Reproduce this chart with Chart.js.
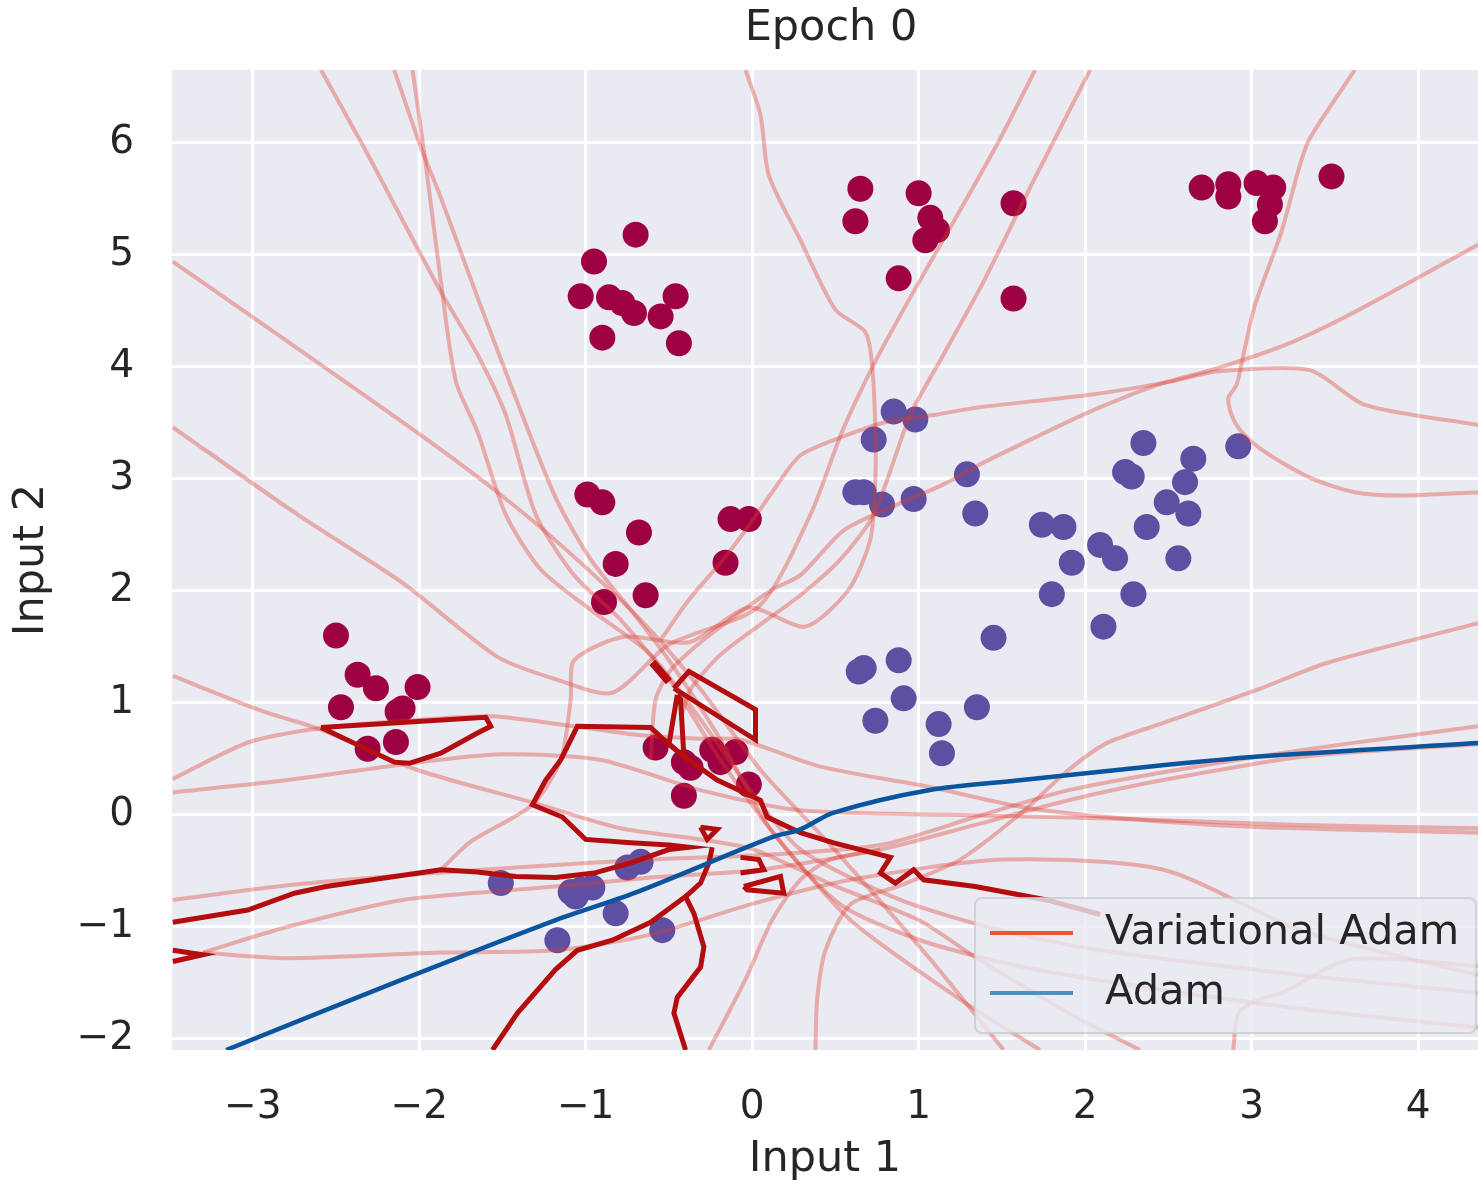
<!DOCTYPE html>
<html>
<head>
<meta charset="utf-8">
<script src="https://cdn.jsdelivr.net/npm/chart.js@4.4.0/dist/chart.umd.min.js"></script>
<style>
  html, body { margin: 0; padding: 0; background: #fff; width: 1478px; height: 1183px; overflow: hidden; }
  #c { display: block; width: 1478px; height: 1183px; }
</style>
</head>
<body>
<canvas id="c" width="1478" height="1183"></canvas>
<script>
// ---- tick labels ----
const xTicks = [-3, -2, -1, 0, 1, 2, 3, 4];
const yTicks = [-2, -1, 0, 1, 2, 3, 4, 5, 6];

// ---- training points (Input 1, Input 2) ----
const classRed = [
  [-0.95,4.94],[-0.70,5.18],[-1.03,4.63],[-0.86,4.62],[-0.78,4.57],[-0.71,4.48],[-0.55,4.45],[-0.46,4.63],[-0.90,4.26],[-0.44,4.21],
  [-0.99,2.86],[-0.90,2.79],[-0.68,2.52],[-0.82,2.24],[-0.89,1.90],[-0.64,1.96],[-0.13,2.64],[-0.02,2.64],[-0.16,2.25],
  [0.65,5.59],[1.00,5.55],[0.62,5.30],[1.07,5.33],[1.11,5.22],[1.04,5.13],[0.88,4.79],[1.57,5.46],[1.57,4.61],
  [2.70,5.60],[2.86,5.63],[2.86,5.52],[3.03,5.64],[3.13,5.60],[3.11,5.45],[3.08,5.30],[3.48,5.70],
  [-2.50,1.60],[-2.37,1.25],[-2.26,1.13],[-2.01,1.14],[-2.47,0.96],[-2.13,0.92],[-2.10,0.95],[-2.14,0.65],[-2.31,0.59],
  [-0.58,0.60],[-0.41,0.47],[-0.37,0.42],[-0.24,0.58],[-0.19,0.47],[-0.10,0.56],[-0.02,0.27],[-0.41,0.17]
];
const classPurple = [
  [0.85,3.60],[0.98,3.53],[0.73,3.35],[0.62,2.88],[0.67,2.88],[0.78,2.77],[0.97,2.82],[1.29,3.04],[1.34,2.69],
  [1.74,2.59],[1.87,2.57],[1.92,2.25],[1.80,1.97],[2.09,2.41],[2.18,2.29],[2.29,1.97],[2.11,1.68],[1.45,1.58],
  [2.35,3.32],[2.24,3.06],[2.28,3.02],[2.65,3.18],[2.60,2.97],[2.49,2.79],[2.62,2.69],[2.37,2.57],[2.56,2.29],[2.92,3.29],
  [0.67,1.31],[0.64,1.28],[0.88,1.38],[0.91,1.04],[0.74,0.84],[1.12,0.81],[1.14,0.55],[1.35,0.96],
  [-1.51,-0.61],[-1.09,-0.69],[-1.03,-0.67],[-0.96,-0.65],[-1.06,-0.73],[-0.82,-0.88],[-1.17,-1.12],[-0.75,-0.47],[-0.67,-0.42],[-0.54,-1.03]
];

// ---- Variational Adam: sampled decision boundaries ----
const sampleA = [[-3.48,3.46],[-2.73,2.68],[-2.10,2.07],[-1.53,1.41],[-1.18,1.21],[-0.84,1.09],[-0.50,1.52],[0.04,1.86],[0.35,2.68],[0.54,3.42],[0.73,4.02],[0.95,4.62],[1.20,5.27],[1.48,6.01],[1.70,6.65]];
const sampleB = [[-3.48,4.94],[-2.65,4.08],[-1.99,3.39],[-1.53,2.88],[-1.15,2.41],[-0.67,1.74],[-0.31,1.12],[0.05,0.40],[0.47,-0.27],[1.07,-1.29],[1.51,-2.10]];
const sampleC = [[-2.59,6.65],[-2.34,5.98],[-1.87,4.67],[-1.65,4.11],[-1.48,3.57],[-1.30,2.68],[-1.07,2.14],[-0.79,1.74],[-0.50,1.21],[-0.19,0.49],[0.11,-0.13],[0.59,-0.94],[1.25,-1.65],[1.73,-2.10]];
const sampleD = [[-2.15,6.65],[-1.99,5.96],[-1.87,5.51],[-1.65,4.62],[-1.42,3.72],[-1.18,2.83],[-0.97,2.28],[-0.73,1.83],[-0.50,1.38],[-0.19,0.67],[0.11,-0.13],[0.53,-0.80],[1.01,-1.12],[1.60,-1.35],[2.40,-1.55],[3.40,-1.75],[4.36,-1.90]];
const sampleE = [[-2.04,6.65],[-1.96,5.80],[-1.87,4.76],[-1.78,3.87],[-1.65,3.42],[-1.48,2.68],[-1.27,2.19],[-0.97,1.83],[-0.61,1.43],[-0.31,0.85],[-0.01,0.22],[0.29,-0.31],[0.89,-0.76],[1.49,-1.03],[2.09,-1.21],[3.29,-1.43],[4.36,-1.59]];
const sampleF = [[-0.04,6.65],[0.05,6.25],[0.10,5.71],[0.29,5.13],[0.50,4.51],[0.68,4.31],[0.72,4.02],[0.74,3.44],[0.74,2.99],[0.71,2.46],[0.58,2.01],[0.32,1.68],[-0.02,1.85],[-0.38,1.54],[-0.77,1.59],[-1.07,1.38],[-1.09,1.03],[-1.15,0.49],[-1.32,0.09],[-1.69,-0.24],[-1.87,-0.49]];
const sampleG = [[3.62,6.65],[3.35,6.04],[3.29,5.80],[3.18,5.21],[3.02,4.55],[2.96,4.17],[2.91,3.84],[2.86,3.72],[2.88,3.57],[2.94,3.42],[3.08,3.24],[3.35,3.01],[3.62,2.88],[3.90,2.85],[4.36,2.88]];
const sampleH = [[4.36,5.09],[3.62,4.49],[3.21,4.20],[2.80,3.99],[2.44,3.84],[2.03,3.60],[1.70,3.37],[1.37,3.13],[1.15,2.95],[0.87,2.77],[0.55,2.54],[0.29,2.14],[0.12,2.01],[-0.08,1.80],[-0.31,1.54],[-0.49,1.29],[-0.58,1.03],[-0.61,0.49]];
const sampleT = [[2.03,6.65],[1.70,5.69],[1.39,4.76],[1.15,4.11],[0.95,3.57],[0.73,2.68],[0.53,2.28],[0.29,1.96],[0.05,1.70],[-0.19,1.43],[-0.37,1.12],[-0.43,0.85]];
const sampleS = [[4.36,3.48],[3.68,3.66],[3.35,3.97],[2.80,3.96],[2.52,3.87],[2.03,3.75],[1.37,3.64],[1.09,3.57],[0.81,3.51],[0.55,3.38],[0.29,3.21],[0.12,2.88],[-0.04,2.54],[-0.19,2.25],[-0.38,1.92],[-0.55,1.56]];
const sampleP = [[-3.48,0.32],[-3.02,0.65],[-2.56,0.78],[-1.99,0.85],[-1.56,0.88],[-1.07,0.79],[-0.67,0.71],[-0.31,0.68],[-0.07,0.67],[0.41,0.43],[1.06,0.25],[1.62,0.07],[2.13,-0.02],[3.03,-0.11],[4.36,-0.16]];
const sampleQ = [[-3.48,0.20],[-2.79,0.31],[-2.10,0.45],[-1.51,0.54],[-0.91,0.49],[-0.31,0.22],[0.29,0.04],[1.19,0.00],[2.09,-0.03],[3.29,-0.09],[4.36,-0.12]];
const sampleO = [[-3.48,1.24],[-2.95,0.93],[-2.59,0.76],[-2.01,0.40],[-1.32,0.11],[-0.79,-0.12],[-0.31,-0.22],[0.01,-0.31],[0.49,-0.63],[1.00,-0.94],[1.34,-1.27],[1.90,-1.77],[2.33,-2.10]];
const sampleN1 = [[4.36,0.79],[3.60,0.64],[3.04,0.52],[2.47,0.38],[1.90,0.22],[1.34,-0.02],[0.77,-0.27],[0.05,-0.36],[-0.61,-0.40],[-1.42,-0.47],[-2.10,-0.54],[-2.79,-0.63],[-3.48,-0.76]];
const sampleN2 = [[4.36,0.63],[3.32,0.52],[2.47,0.31],[1.90,0.13],[1.34,-0.09],[0.77,-0.31],[0.05,-0.49],[-0.61,-0.56],[-0.95,-0.61],[-1.42,-0.67],[-2.10,-0.76],[-2.79,-1.00],[-3.30,-1.23]];
const sampleM = [[-3.30,-1.23],[-2.79,-1.28],[-1.87,-1.23],[-1.18,-1.21],[-0.61,-1.07],[-0.01,-0.80],[0.59,-0.58],[1.51,-0.40],[2.47,-0.49],[3.29,-1.03],[4.36,-1.43]];
const sampleK = [[4.36,1.71],[3.46,1.36],[3.04,1.12],[2.47,0.82],[2.13,0.64],[1.90,0.40],[1.62,0.02],[1.25,-0.40],[0.89,-0.63],[0.59,-0.80],[0.44,-1.21],[0.39,-1.65],[0.38,-2.10]];
const sampleU = [[-0.26,-2.10],[-0.04,-1.47],[0.12,-0.94],[0.29,-0.58],[0.47,-0.40],[0.77,-0.31]];
const sampleV = [[2.89,-2.10],[2.92,-1.77],[3.04,-1.65],[3.18,-1.59],[3.60,-1.29],[4.36,-1.35]];
const vadamSamples = [sampleA, sampleB, sampleC, sampleD, sampleE, sampleF, sampleG, sampleH, sampleT, sampleS,
                      sampleP, sampleQ, sampleO, sampleN1, sampleN2, sampleM, sampleK, sampleU, sampleV];

// ---- Variational Adam: mean boundary (dark) ----
const meanLeftLoop = [[-2.59,0.78],[-1.60,0.87],[-1.57,0.79],[-1.65,0.73],[-1.87,0.55],[-2.06,0.46],[-2.15,0.47],[-2.59,0.78]];
const meanMain = [[-3.48,-0.96],[-3.03,-0.85],[-2.75,-0.70],[-2.56,-0.64],[-1.87,-0.49],[-1.65,-0.51],[-1.42,-0.55],[-1.18,-0.56],[-0.95,-0.52],[-0.73,-0.43],[-0.50,-0.31],[-0.38,-0.29],[-0.50,-0.27],[-0.73,-0.25],[-1.00,-0.22],[-1.14,-0.02],[-1.32,0.09],[-1.24,0.31],[-1.15,0.49],[-1.05,0.79],[-0.61,0.78],[-0.53,0.67],[-0.41,0.52],[-0.21,0.31],[0.05,0.13],[0.09,-0.02],[0.29,-0.16],[0.49,-0.25],[0.83,-0.38],[0.77,-0.52],[0.86,-0.61],[0.97,-0.49],[1.03,-0.58],[1.34,-0.64],[1.77,-0.76],[2.09,-0.89]];
const meanQuad = [[-0.47,1.13],[-0.38,1.28],[0.02,0.94],[0.02,0.67],[-0.47,1.13]];
const meanNarrow = [[-0.45,1.07],[-0.50,0.63],[-0.41,0.52],[-0.43,1.03],[-0.45,1.07]];
const meanSmall1 = [[-0.05,-0.64],[0.17,-0.55],[0.19,-0.70],[-0.03,-0.67],[-0.05,-0.64]];
const meanSmall2 = [[-0.07,-0.38],[0.04,-0.40],[0.07,-0.49],[-0.07,-0.52]];
const meanSmall3 = [[-0.31,-0.11],[-0.21,-0.13],[-0.27,-0.22],[-0.31,-0.11]];
const meanWedge = [[-1.56,-2.10],[-1.41,-1.77],[-1.18,-1.38],[-1.05,-1.21],[-0.84,-1.12],[-0.61,-0.96],[-0.40,-0.73],[-0.35,-0.88],[-0.29,-1.18],[-0.31,-1.36],[-0.45,-1.63],[-0.47,-1.77],[-0.40,-2.10]];
const meanStub = [[-0.40,-0.73],[-0.31,-0.61],[-0.26,-0.43],[-0.24,-0.29]];
const meanArrow = [[-3.48,-1.21],[-3.30,-1.25],[-3.48,-1.31]];
const meanDash = [[-0.60,1.36],[-0.50,1.19]];
const meanPieces = [meanLeftLoop, meanMain, meanQuad, meanNarrow, meanSmall1, meanSmall2, meanSmall3, meanWedge, meanStub, meanArrow, meanDash];

// ---- Adam boundary ----
const adamBoundary = [[-3.16,-2.10],[-2.10,-1.47],[-1.18,-0.94],[-0.71,-0.70],[0.12,-0.20],[0.29,-0.13],[0.49,0.02],[1.06,0.22],[1.62,0.31],[2.19,0.40],[3.04,0.52],[4.36,0.64]];

const legendLabels = ['Variational Adam', 'Adam'];
const legendColors = ['#ee523a', '#4a90c8'];

const toXY = pts => pts.map(p => ({ x: p[0], y: p[1] }));
const fmt = v => (v < 0 ? '\u2212' + Math.abs(v) : String(v));

const datasets = [];
datasets.push({
  label: 'Adam', data: toXY(adamBoundary), showLine: true, pointRadius: 0, tension: 0.3,
  borderColor: '#0b559f', borderWidth: 4.5, order: 1, clip: 0
});
meanPieces.forEach(p => datasets.push({
  label: 'mean', data: toXY(p), showLine: true, pointRadius: 0,
  borderColor: '#b30d10', borderWidth: p === meanDash ? 8 : 5, order: 2, clip: 0
}));
vadamSamples.forEach(s => datasets.push({
  label: 'sample', data: toXY(s), showLine: true, pointRadius: 0, tension: 0.25,
  borderColor: 'rgba(222,60,45,0.37)', borderWidth: 4, order: 3, clip: 0
}));
datasets.push({
  label: 'class 1', data: toXY(classRed), pointRadius: 13, pointBackgroundColor: '#9e0142',
  pointBorderWidth: 0, order: 4
});
datasets.push({
  label: 'class 0', data: toXY(classPurple), pointRadius: 13, pointBackgroundColor: '#5e4fa2',
  pointBorderWidth: 0, order: 4
});

const bgPlugin = {
  id: 'bg',
  beforeDraw(chart) {
    const { ctx, chartArea: a } = chart;
    ctx.save();
    ctx.fillStyle = '#ffffff';
    ctx.fillRect(0, 0, chart.width, chart.height);
    ctx.fillStyle = '#eaeaf2';
    ctx.fillRect(a.left, a.top, a.right - a.left, a.bottom - a.top);
    ctx.restore();
  }
};

const titlePlugin = {
  id: 'epochTitle',
  afterDraw(chart) {
    const { ctx, chartArea: a } = chart;
    ctx.save();
    ctx.fillStyle = '#262626';
    ctx.font = '43px "DejaVu Sans"';
    ctx.textAlign = 'center';
    ctx.textBaseline = 'middle';
    ctx.fillText('Epoch 0', (a.left + a.right) / 2 + 6, 29);
    ctx.restore();
  }
};

const legendPlugin = {
  id: 'boxLegend',
  afterDatasetsDraw(chart) {
    const { ctx, chartArea: a } = chart;
    const w = 501, h = 135;
    const x0 = a.right - w - 2, y0 = a.bottom - h - 17;
    ctx.save();
    ctx.beginPath();
    ctx.roundRect(x0, y0, w, h, 7);
    ctx.fillStyle = 'rgba(234,234,242,0.8)';
    ctx.fill();
    ctx.strokeStyle = 'rgba(204,204,204,0.8)';
    ctx.lineWidth = 2;
    ctx.stroke();
    legendLabels.forEach((txt, i) => {
      const y = y0 + 35 + i * 60;
      ctx.strokeStyle = legendColors[i];
      ctx.lineWidth = 4;
      ctx.beginPath();
      ctx.moveTo(x0 + 15, y);
      ctx.lineTo(x0 + 98, y);
      ctx.stroke();
      ctx.fillStyle = '#262626';
      ctx.font = '41.5px "DejaVu Sans"';
      ctx.textBaseline = 'middle';
      ctx.textAlign = 'left';
      ctx.fillText(txt, x0 + 130, y);
    });
    ctx.restore();
  }
};

new Chart(document.getElementById('c'), {
  type: 'scatter',
  data: { datasets },
  options: {
    responsive: false,
    animation: false,
    devicePixelRatio: 1,
    layout: { autoPadding: false, padding: { top: 70, right: 0, bottom: 0, left: 0 } },
    plugins: { legend: { display: false }, tooltip: { enabled: false } },
    scales: {
      x: {
        type: 'linear', min: -3.485, max: 4.36,
        afterBuildTicks: s => { s.ticks = xTicks.map(v => ({ value: v })); },
        afterFit: s => { s.height = 133; s.paddingLeft = 0; s.paddingRight = 0; },
        grid: { color: '#ffffff', lineWidth: 3, drawTicks: false },
        border: { display: false },
        ticks: { color: '#262626', font: { family: 'DejaVu Sans', size: 39 }, padding: 34, callback: fmt, maxRotation: 0 },
        title: { display: true, text: 'Input 1', color: '#262626', font: { family: 'DejaVu Sans', size: 43 }, padding: { top: 0, bottom: -3 } }
      },
      y: {
        type: 'linear', min: -2.1, max: 6.65,
        afterBuildTicks: s => { s.ticks = yTicks.map(v => ({ value: v })); },
        afterFit: s => { s.width = 172; s.paddingTop = 0; s.paddingBottom = 0; },
        grid: { color: '#ffffff', lineWidth: 3, drawTicks: false },
        border: { display: false },
        ticks: { color: '#262626', font: { family: 'DejaVu Sans', size: 39 }, padding: 38, callback: fmt },
        title: { display: true, text: 'Input 2', color: '#262626', font: { family: 'DejaVu Sans', size: 43 }, padding: { top: 6, bottom: 0 } }
      }
    }
  },
  plugins: [bgPlugin, titlePlugin, legendPlugin]
});
</script>
</body>
</html>
